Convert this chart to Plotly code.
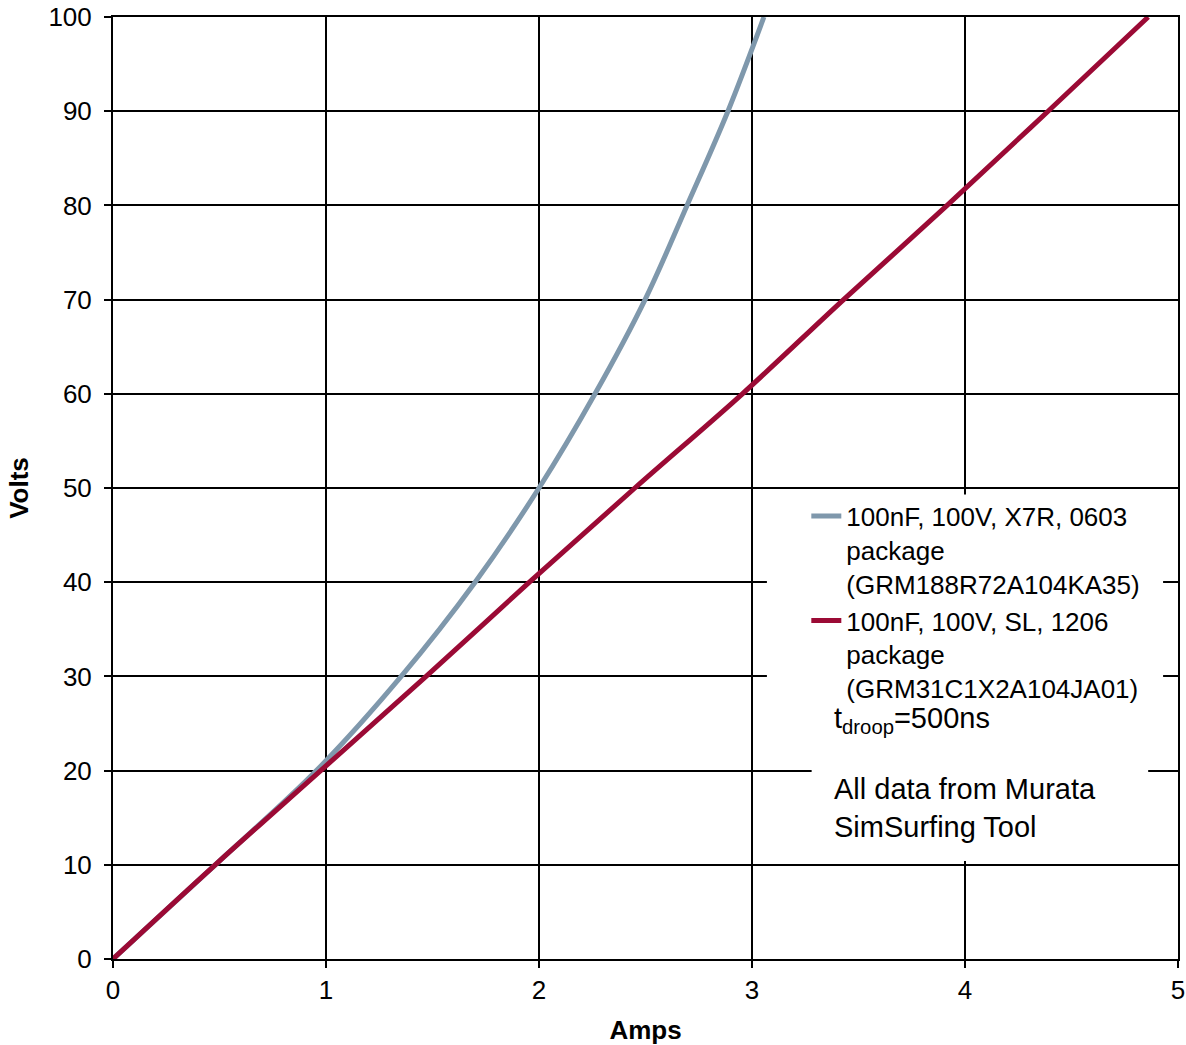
import plotly.graph_objects as go

# Data
amps_x7r = [0, 0.48, 0.955, 1.353, 1.70, 2.0, 2.263, 2.498, 2.695, 2.887, 3.056]
volts_x7r = [0, 10, 20, 30, 40, 50, 60, 70, 80, 90, 100]

amps_sl = [0, 0.48, 0.975, 1.47, 1.955, 2.45, 2.955, 3.43, 3.916, 4.39, 4.86]
volts_sl = [0, 10, 20, 30, 40, 50, 60, 70, 80, 90, 100]

name_x7r = "100nF, 100V, X7R, 0603<br>package<br>(GRM188R72A104KA35)"
name_sl = "100nF, 100V, SL, 1206<br>package<br>(GRM31C1X2A104JA01)"

x_ticks = [0, 1, 2, 3, 4, 5]
y_ticks = [0, 10, 20, 30, 40, 50, 60, 70, 80, 90, 100]

FONT = "Arial, 'Liberation Sans', sans-serif"

fig = go.Figure()
fig.add_trace(go.Scatter(x=amps_x7r, y=volts_x7r, mode="lines", name=name_x7r,
                         line=dict(color="#7f98ac", width=5, shape="spline")))
fig.add_trace(go.Scatter(x=amps_sl, y=volts_sl, mode="lines", name=name_sl,
                         line=dict(color="#9b0a35", width=5, shape="spline")))

# white boxes covering gridlines behind legend and notes
fig.add_shape(type="rect", x0=3.07, x1=4.93, y0=22.2, y1=49.3, xref="x", yref="y",
              fillcolor="white", line=dict(width=0), layer="between")
fig.add_shape(type="rect", x0=3.28, x1=4.86, y0=10.4, y1=22.3, xref="x", yref="y",
              fillcolor="white", line=dict(width=0), layer="between")

fig.add_annotation(x=3.376, y=25.4, xref="x", yref="y", xanchor="left", yanchor="middle",
                   text="t<sub>droop</sub>=500ns", showarrow=False,
                   font=dict(family=FONT, size=29, color="black"))
fig.add_annotation(x=3.376, y=20.0, xref="x", yref="y", xanchor="left", yanchor="top",
                   text="All data from Murata<br>SimSurfing Tool", showarrow=False, align="left",
                   font=dict(family=FONT, size=29, color="black"))

fig.update_layout(
    width=1186, height=1045,
    margin=dict(l=113, r=8, t=17, b=86),
    paper_bgcolor="white", plot_bgcolor="white",
    font=dict(family=FONT, size=26, color="black"),
    showlegend=True,
    legend=dict(x=0.651, y=0.495, xanchor="left", yanchor="top",
                bgcolor="rgba(0,0,0,0)", borderwidth=0, valign="top",
                font=dict(family=FONT, size=26, color="black"),
                tracegroupgap=0),
    xaxis=dict(range=[0, 5], tickvals=x_ticks, showgrid=True, gridcolor="black", gridwidth=2,
               showline=True, linecolor="black", linewidth=2, mirror=True,
               ticks="outside", ticklen=7, tickwidth=2, tickcolor="black",
               ticklabeloverflow="allow",
               zeroline=False, automargin=False,
               title=dict(text="<b>Amps</b>", font=dict(family=FONT, size=26), standoff=17)),
    yaxis=dict(range=[0, 100], tickvals=y_ticks, showgrid=True, gridcolor="black", gridwidth=2,
               showline=True, linecolor="black", linewidth=2, mirror=True,
               ticks="outside", ticklen=7, tickwidth=2, tickcolor="black",
               ticklabelstandoff=7, ticklabeloverflow="allow",
               zeroline=False, automargin=False,
               title=dict(text="<b>Volts</b>", font=dict(family=FONT, size=26), standoff=12)),
)

fig.write_html("out.html",
               config={"displayModeBar": False},
               post_script="document.body.style.margin='0';document.body.style.overflow='hidden';")
